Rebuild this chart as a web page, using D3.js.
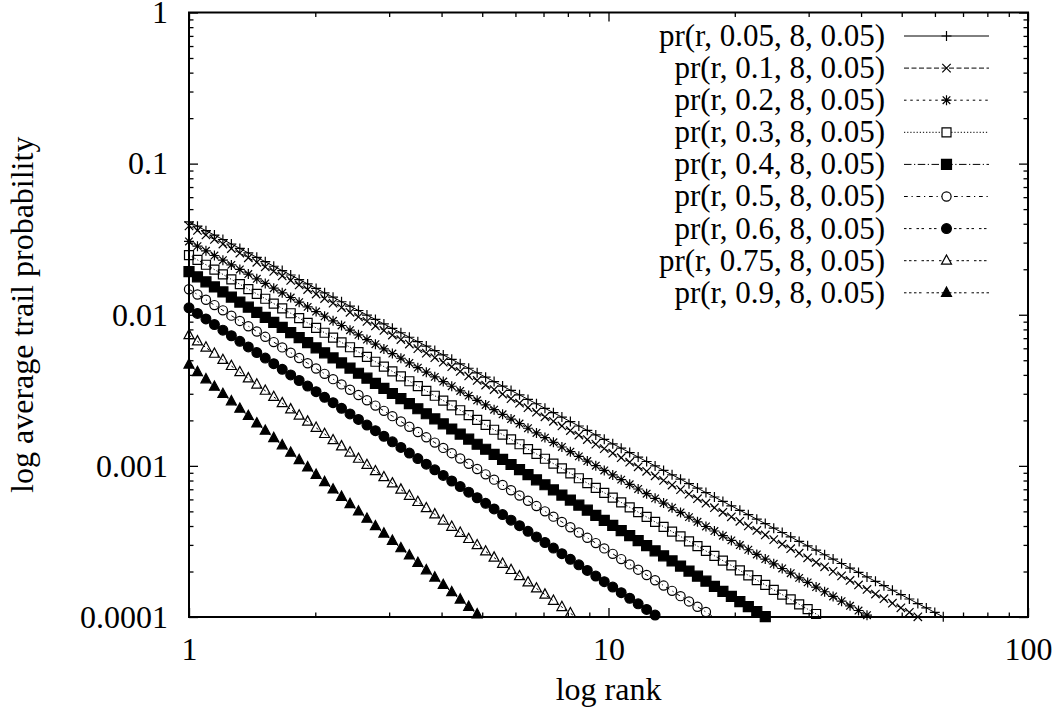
<!DOCTYPE html>
<html>
<head>
<meta charset="utf-8">
<script src="https://cdn.jsdelivr.net/npm/d3@7"></script>
<style>
  body { margin: 0; background: #fff; }
  svg text { font-family: "Liberation Serif", "Times New Roman", serif; font-size: 32px; fill: #000; }
  svg .legend text { font-size: 31px; }
</style>
</head>
<body>
<div id="chart"></div>
<script>
// sampled ranks (log10), shared by every curve
const logRank = [
  0.0000,0.0202,0.0404,0.0606,0.0808,0.1010,0.1212,0.1414,0.1616,0.1818,
  0.2020,0.2222,0.2424,0.2626,0.2828,0.3030,0.3232,0.3434,0.3636,0.3838,
  0.4040,0.4242,0.4444,0.4646,0.4848,0.5051,0.5253,0.5455,0.5657,0.5859,
  0.6061,0.6263,0.6465,0.6667,0.6869,0.7071,0.7273,0.7475,0.7677,0.7879,
  0.8081,0.8283,0.8485,0.8687,0.8889,0.9091,0.9293,0.9495,0.9697,0.9899,
  1.0101,1.0303,1.0505,1.0707,1.0909,1.1111,1.1313,1.1515,1.1717,1.1919,
  1.2121,1.2323,1.2525,1.2727,1.2929,1.3131,1.3333,1.3535,1.3737,1.3939,
  1.4141,1.4343,1.4545,1.4747,1.4949,1.5152,1.5354,1.5556,1.5758,1.5960,
  1.6162,1.6364,1.6566,1.6768,1.6970,1.7172,1.7374,1.7576,1.7778,1.7980,
  1.8182
];

// log10 average trail probability at each sampled rank
const logProbA005 = [
  -1.385,-1.414,-1.444,-1.473,-1.502,-1.532,-1.561,-1.591,-1.620,-1.649,
  -1.679,-1.708,-1.737,-1.767,-1.796,-1.826,-1.855,-1.884,-1.914,-1.943,
  -1.972,-2.002,-2.031,-2.061,-2.090,-2.119,-2.149,-2.178,-2.207,-2.237,
  -2.266,-2.295,-2.325,-2.354,-2.384,-2.413,-2.442,-2.472,-2.501,-2.530,
  -2.560,-2.589,-2.619,-2.648,-2.677,-2.707,-2.736,-2.765,-2.795,-2.824,
  -2.854,-2.883,-2.912,-2.942,-2.971,-3.000,-3.030,-3.059,-3.088,-3.118,
  -3.147,-3.177,-3.206,-3.235,-3.265,-3.294,-3.323,-3.353,-3.382,-3.412,
  -3.441,-3.470,-3.500,-3.529,-3.558,-3.588,-3.617,-3.646,-3.676,-3.705,
  -3.735,-3.764,-3.793,-3.823,-3.852,-3.881,-3.911,-3.940,-3.970,-3.999,
  -4.028
];
const logProbA01 = [
  -1.412,-1.442,-1.472,-1.502,-1.532,-1.562,-1.592,-1.623,-1.653,-1.683,
  -1.713,-1.743,-1.773,-1.803,-1.833,-1.863,-1.893,-1.923,-1.953,-1.984,
  -2.014,-2.044,-2.074,-2.104,-2.134,-2.164,-2.194,-2.224,-2.254,-2.284,
  -2.314,-2.344,-2.375,-2.405,-2.435,-2.465,-2.495,-2.525,-2.555,-2.585,
  -2.615,-2.645,-2.675,-2.705,-2.736,-2.766,-2.796,-2.826,-2.856,-2.886,
  -2.916,-2.946,-2.976,-3.006,-3.036,-3.066,-3.096,-3.127,-3.157,-3.187,
  -3.217,-3.247,-3.277,-3.307,-3.337,-3.367,-3.397,-3.427,-3.457,-3.488,
  -3.518,-3.548,-3.578,-3.608,-3.638,-3.668,-3.698,-3.728,-3.758,-3.788,
  -3.818,-3.848,-3.879,-3.909,-3.939,-3.969,-3.999,-4.029
];
const logProbA02 = [
  -1.515,-1.546,-1.577,-1.608,-1.639,-1.670,-1.700,-1.731,-1.762,-1.793,
  -1.824,-1.855,-1.886,-1.917,-1.948,-1.979,-2.010,-2.040,-2.071,-2.102,
  -2.133,-2.164,-2.195,-2.226,-2.257,-2.288,-2.319,-2.350,-2.380,-2.411,
  -2.442,-2.473,-2.504,-2.535,-2.566,-2.597,-2.628,-2.659,-2.690,-2.720,
  -2.751,-2.782,-2.813,-2.844,-2.875,-2.906,-2.937,-2.968,-2.999,-3.030,
  -3.060,-3.091,-3.122,-3.153,-3.184,-3.215,-3.246,-3.277,-3.308,-3.339,
  -3.370,-3.401,-3.431,-3.462,-3.493,-3.524,-3.555,-3.586,-3.617,-3.648,
  -3.679,-3.710,-3.741,-3.771,-3.802,-3.833,-3.864,-3.895,-3.926,-3.957,
  -3.988,-4.019
];
const logProbA03 = [
  -1.605,-1.637,-1.669,-1.701,-1.733,-1.766,-1.798,-1.830,-1.862,-1.894,
  -1.926,-1.958,-1.990,-2.022,-2.054,-2.087,-2.119,-2.151,-2.183,-2.215,
  -2.247,-2.279,-2.311,-2.343,-2.375,-2.408,-2.440,-2.472,-2.504,-2.536,
  -2.568,-2.600,-2.632,-2.664,-2.696,-2.729,-2.761,-2.793,-2.825,-2.857,
  -2.889,-2.921,-2.953,-2.985,-3.017,-3.050,-3.082,-3.114,-3.146,-3.178,
  -3.210,-3.242,-3.274,-3.306,-3.338,-3.371,-3.403,-3.435,-3.467,-3.499,
  -3.531,-3.563,-3.595,-3.627,-3.659,-3.692,-3.724,-3.756,-3.788,-3.820,
  -3.852,-3.884,-3.916,-3.948,-3.980,-4.013
];
const logProbA04 = [
  -1.715,-1.749,-1.782,-1.816,-1.849,-1.883,-1.916,-1.950,-1.984,-2.017,
  -2.051,-2.084,-2.118,-2.152,-2.185,-2.219,-2.252,-2.286,-2.319,-2.353,
  -2.387,-2.420,-2.454,-2.487,-2.521,-2.555,-2.588,-2.622,-2.655,-2.689,
  -2.722,-2.756,-2.790,-2.823,-2.857,-2.890,-2.924,-2.957,-2.991,-3.025,
  -3.058,-3.092,-3.125,-3.159,-3.193,-3.226,-3.260,-3.293,-3.327,-3.360,
  -3.394,-3.428,-3.461,-3.495,-3.528,-3.562,-3.595,-3.629,-3.663,-3.696,
  -3.730,-3.763,-3.797,-3.831,-3.864,-3.898,-3.931,-3.965,-3.998,-4.032
];
const logProbA05 = [
  -1.831,-1.866,-1.901,-1.936,-1.971,-2.006,-2.041,-2.076,-2.111,-2.146,
  -2.181,-2.216,-2.251,-2.286,-2.321,-2.356,-2.391,-2.426,-2.461,-2.496,
  -2.531,-2.566,-2.601,-2.636,-2.671,-2.706,-2.741,-2.776,-2.811,-2.846,
  -2.881,-2.916,-2.951,-2.986,-3.021,-3.056,-3.091,-3.126,-3.161,-3.196,
  -3.231,-3.266,-3.301,-3.336,-3.371,-3.406,-3.441,-3.476,-3.511,-3.546,
  -3.582,-3.617,-3.652,-3.687,-3.722,-3.757,-3.792,-3.827,-3.862,-3.897,
  -3.932,-3.967,-4.002
];
const logProbA06 = [
  -1.954,-1.991,-2.028,-2.065,-2.102,-2.139,-2.176,-2.213,-2.250,-2.287,
  -2.324,-2.361,-2.398,-2.435,-2.472,-2.509,-2.546,-2.582,-2.619,-2.656,
  -2.693,-2.730,-2.767,-2.804,-2.841,-2.878,-2.915,-2.952,-2.989,-3.026,
  -3.063,-3.100,-3.137,-3.174,-3.211,-3.248,-3.285,-3.322,-3.359,-3.396,
  -3.433,-3.470,-3.507,-3.544,-3.581,-3.618,-3.655,-3.692,-3.729,-3.766,
  -3.802,-3.839,-3.876,-3.913,-3.950,-3.987,-4.024
];
const logProbA075 = [
  -2.135,-2.176,-2.217,-2.258,-2.299,-2.339,-2.380,-2.421,-2.462,-2.503,
  -2.544,-2.585,-2.626,-2.667,-2.707,-2.748,-2.789,-2.830,-2.871,-2.912,
  -2.953,-2.994,-3.035,-3.075,-3.116,-3.157,-3.198,-3.239,-3.280,-3.321,
  -3.362,-3.403,-3.443,-3.484,-3.525,-3.566,-3.607,-3.648,-3.689,-3.730,
  -3.771,-3.811,-3.852,-3.893,-3.934,-3.975,-4.016
];
const logProbA09 = [
  -2.330,-2.379,-2.427,-2.476,-2.524,-2.573,-2.622,-2.670,-2.719,-2.767,
  -2.816,-2.864,-2.913,-2.962,-3.010,-3.059,-3.107,-3.156,-3.205,-3.253,
  -3.302,-3.350,-3.399,-3.448,-3.496,-3.545,-3.593,-3.642,-3.691,-3.739,
  -3.788,-3.836,-3.885,-3.933,-3.982,-4.031
];

const seriesNames = [
  'pr(r, 0.05, 8, 0.05)', 'pr(r, 0.1, 8, 0.05)', 'pr(r, 0.2, 8, 0.05)',
  'pr(r, 0.3, 8, 0.05)', 'pr(r, 0.4, 8, 0.05)', 'pr(r, 0.5, 8, 0.05)',
  'pr(r, 0.6, 8, 0.05)', 'pr(r, 0.75, 8, 0.05)', 'pr(r, 0.9, 8, 0.05)'
];
const seriesValues = [logProbA005, logProbA01, logProbA02, logProbA03, logProbA04,
  logProbA05, logProbA06, logProbA075, logProbA09];

const xTickValues = [1, 10, 100];
const xTickLabels = ['1', '10', '100'];
const yTickValues = [0.0001, 0.001, 0.01, 0.1, 1];
const yTickLabels = ['0.0001', '0.001', '0.01', '0.1', '1'];

// gnuplot-like point types and dash patterns
const markers = ['plus', 'cross', 'star', 'square', 'squareFill', 'circle', 'circleFill', 'triangle', 'triangleFill'];
const dashes = [null, '5,2.5', '2.5,3.75', '1.25,1.9', '7.5,2.5,1.25,2.5', '3.75,3.75,1.25,3.75',
  '2.5,2.5,2.5,5', '2.5,2.5,2.5,2.5,2.5,5', '2.5,2.5,2.5,2.5,2.5,2.5,2.5,5'];

const width = 1058, height = 719;
const plotLeft = 189, plotRight = 1028, plotTop = 12.5, plotBottom = 617;

const svg = d3.select('#chart').append('svg')
  .attr('width', width)
  .attr('height', height);

const x = d3.scaleLog().domain([1, 100]).range([plotLeft, plotRight]);
const y = d3.scaleLog().domain([0.0001, 1]).range([plotBottom, plotTop]);

const xMinor = x.ticks().filter(d => !xTickValues.includes(d));
const yMinor = y.ticks().filter(d => !yTickValues.some(v => Math.abs(v - d) / d < 1e-9));

// ticks (inward, mirrored on all four sides)
function styleAxis(g) {
  g.select('.domain').remove();
  g.selectAll('line').attr('stroke', '#000').attr('stroke-width', 1.3);
  g.attr('font-family', null).attr('font-size', null);
}

svg.append('g').attr('transform', `translate(0,${plotBottom})`)
  .call(d3.axisBottom(x).tickValues(xTickValues).tickSize(-9).tickPadding(20)
    .tickFormat((d, i) => xTickLabels[i]))
  .call(styleAxis);
svg.append('g').attr('transform', `translate(0,${plotBottom})`)
  .call(d3.axisBottom(x).tickValues(xMinor).tickSize(-4.5).tickFormat(''))
  .call(styleAxis);
svg.append('g').attr('transform', `translate(0,${plotTop})`)
  .call(d3.axisTop(x).tickValues(xTickValues).tickSize(-9).tickFormat(''))
  .call(styleAxis);
svg.append('g').attr('transform', `translate(0,${plotTop})`)
  .call(d3.axisTop(x).tickValues(xMinor).tickSize(-4.5).tickFormat(''))
  .call(styleAxis);

svg.append('g').attr('transform', `translate(${plotLeft},0)`)
  .call(d3.axisLeft(y).tickValues(yTickValues).tickSize(-9).tickPadding(21)
    .tickFormat((d, i) => yTickLabels[i]))
  .call(styleAxis);
svg.append('g').attr('transform', `translate(${plotLeft},0)`)
  .call(d3.axisLeft(y).tickValues(yMinor).tickSize(-4.5).tickFormat(''))
  .call(styleAxis);
svg.append('g').attr('transform', `translate(${plotRight},0)`)
  .call(d3.axisRight(y).tickValues(yTickValues).tickSize(-9).tickFormat(''))
  .call(styleAxis);
svg.append('g').attr('transform', `translate(${plotRight},0)`)
  .call(d3.axisRight(y).tickValues(yMinor).tickSize(-4.5).tickFormat(''))
  .call(styleAxis);

// axis titles
svg.append('text')
  .attr('x', (plotLeft + plotRight) / 2)
  .attr('y', 700)
  .attr('text-anchor', 'middle')
  .text('log rank');
svg.append('text')
  .attr('transform', `translate(33,${(plotTop + plotBottom) / 2}) rotate(-90)`)
  .attr('text-anchor', 'middle')
  .text('log average trail probability');

function markerPath(type) {
  switch (type) {
    case 'plus': { const s = 5; return `M${-s},0H${s}M0,${-s}V${s}`; }
    case 'cross': { const c = 4.2; return `M${-c},${-c}L${c},${c}M${-c},${c}L${c},${-c}`; }
    case 'star': { const s = 5, c = 3.8; return `M${-s},0H${s}M0,${-s}V${s}M${-c},${-c}L${c},${c}M${-c},${c}L${c},${-c}`; }
    case 'square': { const c = 4.5; return `M${-c},${-c}H${c}V${c}H${-c}Z`; }
    case 'squareFill': { const c = 5; return `M${-c},${-c}H${c}V${c}H${-c}Z`; }
    case 'circle': case 'circleFill': {
      const r = type === 'circle' ? 4.6 : 4.9;
      return `M${r},0A${r},${r} 0 1,1 ${-r},0A${r},${r} 0 1,1 ${r},0Z`;
    }
    default: { const s = 5; return `M0,${-s * 1.15}L${s},${s * 0.7}L${-s},${s * 0.7}Z`; }
  }
}

// clip for the curves
svg.append('clipPath').attr('id', 'plot-clip')
  .append('rect')
  .attr('x', plotLeft).attr('y', plotTop)
  .attr('width', plotRight - plotLeft).attr('height', plotBottom - plotTop);

const line = d3.line()
  .x(d => x(d.r))
  .y(d => y(d.p));

const series = seriesValues.map((vals, k) => ({
  name: seriesNames[k],
  marker: markers[k],
  dash: dashes[k],
  points: vals.map((v, i) => ({ r: Math.pow(10, logRank[i]), p: Math.pow(10, v), lp: v }))
}));

const plot = svg.append('g');

series.forEach(s => {
  const filled = s.marker.endsWith('Fill');
  plot.append('path')
    .datum(s.points)
    .attr('clip-path', 'url(#plot-clip)')
    .attr('fill', 'none')
    .attr('stroke', '#000')
    .attr('stroke-width', 1)
    .attr('stroke-dasharray', s.dash)
    .attr('d', line);

  plot.append('g').selectAll('path')
    .data(s.points.filter(d => d.lp >= -4.0005))
    .join('path')
    .attr('transform', d => `translate(${x(d.r)},${y(d.p)})`)
    .attr('d', markerPath(s.marker))
    .attr('fill', filled ? '#000' : 'none')
    .attr('stroke', '#000')
    .attr('stroke-width', 1.2);
});

// legend
const legend = svg.append('g').attr('class', 'legend');
series.forEach((s, k) => {
  const ly = 36 + k * 32.1;
  const filled = s.marker.endsWith('Fill');
  legend.append('text')
    .attr('x', 885)
    .attr('y', ly)
    .attr('dy', '0.32em')
    .attr('text-anchor', 'end')
    .text(s.name);
  legend.append('line')
    .attr('x1', 904).attr('x2', 989)
    .attr('y1', ly).attr('y2', ly)
    .attr('stroke', '#000')
    .attr('stroke-width', 1)
    .attr('stroke-dasharray', s.dash);
  legend.append('path')
    .attr('transform', `translate(946.5,${ly})`)
    .attr('d', markerPath(s.marker))
    .attr('fill', filled ? '#000' : (s.marker === 'plus' || s.marker === 'cross' || s.marker === 'star' ? 'none' : '#fff'))
    .attr('stroke', '#000')
    .attr('stroke-width', 1.2);
});

// plot border
svg.append('rect')
  .attr('x', plotLeft).attr('y', plotTop)
  .attr('width', plotRight - plotLeft).attr('height', plotBottom - plotTop)
  .attr('fill', 'none')
  .attr('stroke', '#000')
  .attr('stroke-width', 2);
</script>
</body>
</html>
